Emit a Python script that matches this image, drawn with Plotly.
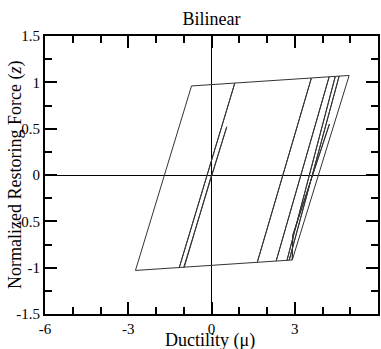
import plotly.graph_objects as go

# Ductility (mu) and normalized restoring force (z) along the hysteresis path
ductility = [0.00, -0.98, -2.74, -0.72, 0.84, -1.16, 0.84, 3.60, 1.65, 3.60,
             4.24, 2.33, 4.24, 4.46, 2.72, 4.46, 4.60, 2.80, 4.60, 4.96,
             2.91, 2.93, 4.25, 2.93, 2.91, -1.00, 0.55, -0.02]
force = [0.000, -0.995, -1.030, 0.961, 0.992, -0.998, 0.992, 1.047, -0.942, 1.047,
         1.060, -0.928, 1.060, 1.064, -0.921, 1.064, 1.067, -0.919, 1.067, 1.074,
         -0.917, -0.650, 0.550, -0.650, -0.917, -0.995, 0.520, -0.030]

x_tick_vals = [-6, -3, 0, 3, 6]
x_tick_text = ["-6", "-3", "0", "3", "6"]
y_tick_vals = [-1.5, -1, -0.5, 0, 0.5, 1, 1.5]
y_tick_text = ["-1.5", "-1", "-0.5", "0", "0.5", "1", "1.5"]

serif = "Liberation Serif"

fig = go.Figure()
fig.add_trace(go.Scatter(
    x=ductility, y=force, mode="lines",
    line=dict(color="#333333", width=1),
    showlegend=False, hoverinfo="skip",
))

tick_font = dict(family=serif, size=15, color="black")

fig.update_layout(
    width=381, height=349,
    margin=dict(l=45, r=1, t=36, b=35),
    paper_bgcolor="white", plot_bgcolor="white",
    title=dict(text="Bilinear", x=0.555, xanchor="center", y=0.945, yanchor="middle",
               font=dict(family=serif, size=18, color="black")),
    xaxis=dict(
        range=[-6, 6], showline=True, linecolor="black", linewidth=2, mirror="allticks",
        ticks="inside", tickcolor="black", tickwidth=1.5, ticklen=12,
        tickmode="array", tickvals=x_tick_vals, ticktext=x_tick_text, tickfont=tick_font,
        minor=dict(tickmode="linear", tick0=0, dtick=1, ticks="inside", ticklen=7,
                   tickcolor="black", tickwidth=1.5),
        showgrid=False, zeroline=True, zerolinecolor="black", zerolinewidth=1.3,
    ),
    yaxis=dict(
        range=[-1.5, 1.5], showline=True, linecolor="black", linewidth=2, mirror="allticks",
        ticks="inside", tickcolor="black", tickwidth=1.5, ticklen=12,
        tickmode="array", tickvals=y_tick_vals, ticktext=y_tick_text, tickfont=tick_font,
        minor=dict(tickmode="linear", tick0=0, dtick=0.25, ticks="inside", ticklen=7,
                   tickcolor="black", tickwidth=1.5),
        showgrid=False, zeroline=True, zerolinecolor="black", zerolinewidth=1.3,
    ),
)

fig.add_annotation(
    text="Normalized Restoring Force (<i>z</i>)",
    textangle=-90, xref="paper", yref="paper", x=-0.09, y=0.5,
    xanchor="center", yanchor="middle", showarrow=False,
    font=dict(family=serif, size=18, color="black"),
)
fig.add_annotation(
    text="Ductility (μ)",
    xref="paper", yref="paper", x=0.495, y=-0.094,
    xanchor="center", yanchor="middle", showarrow=False,
    font=dict(family=serif, size=18, color="black"),
)

fig.write_html("out.html")
